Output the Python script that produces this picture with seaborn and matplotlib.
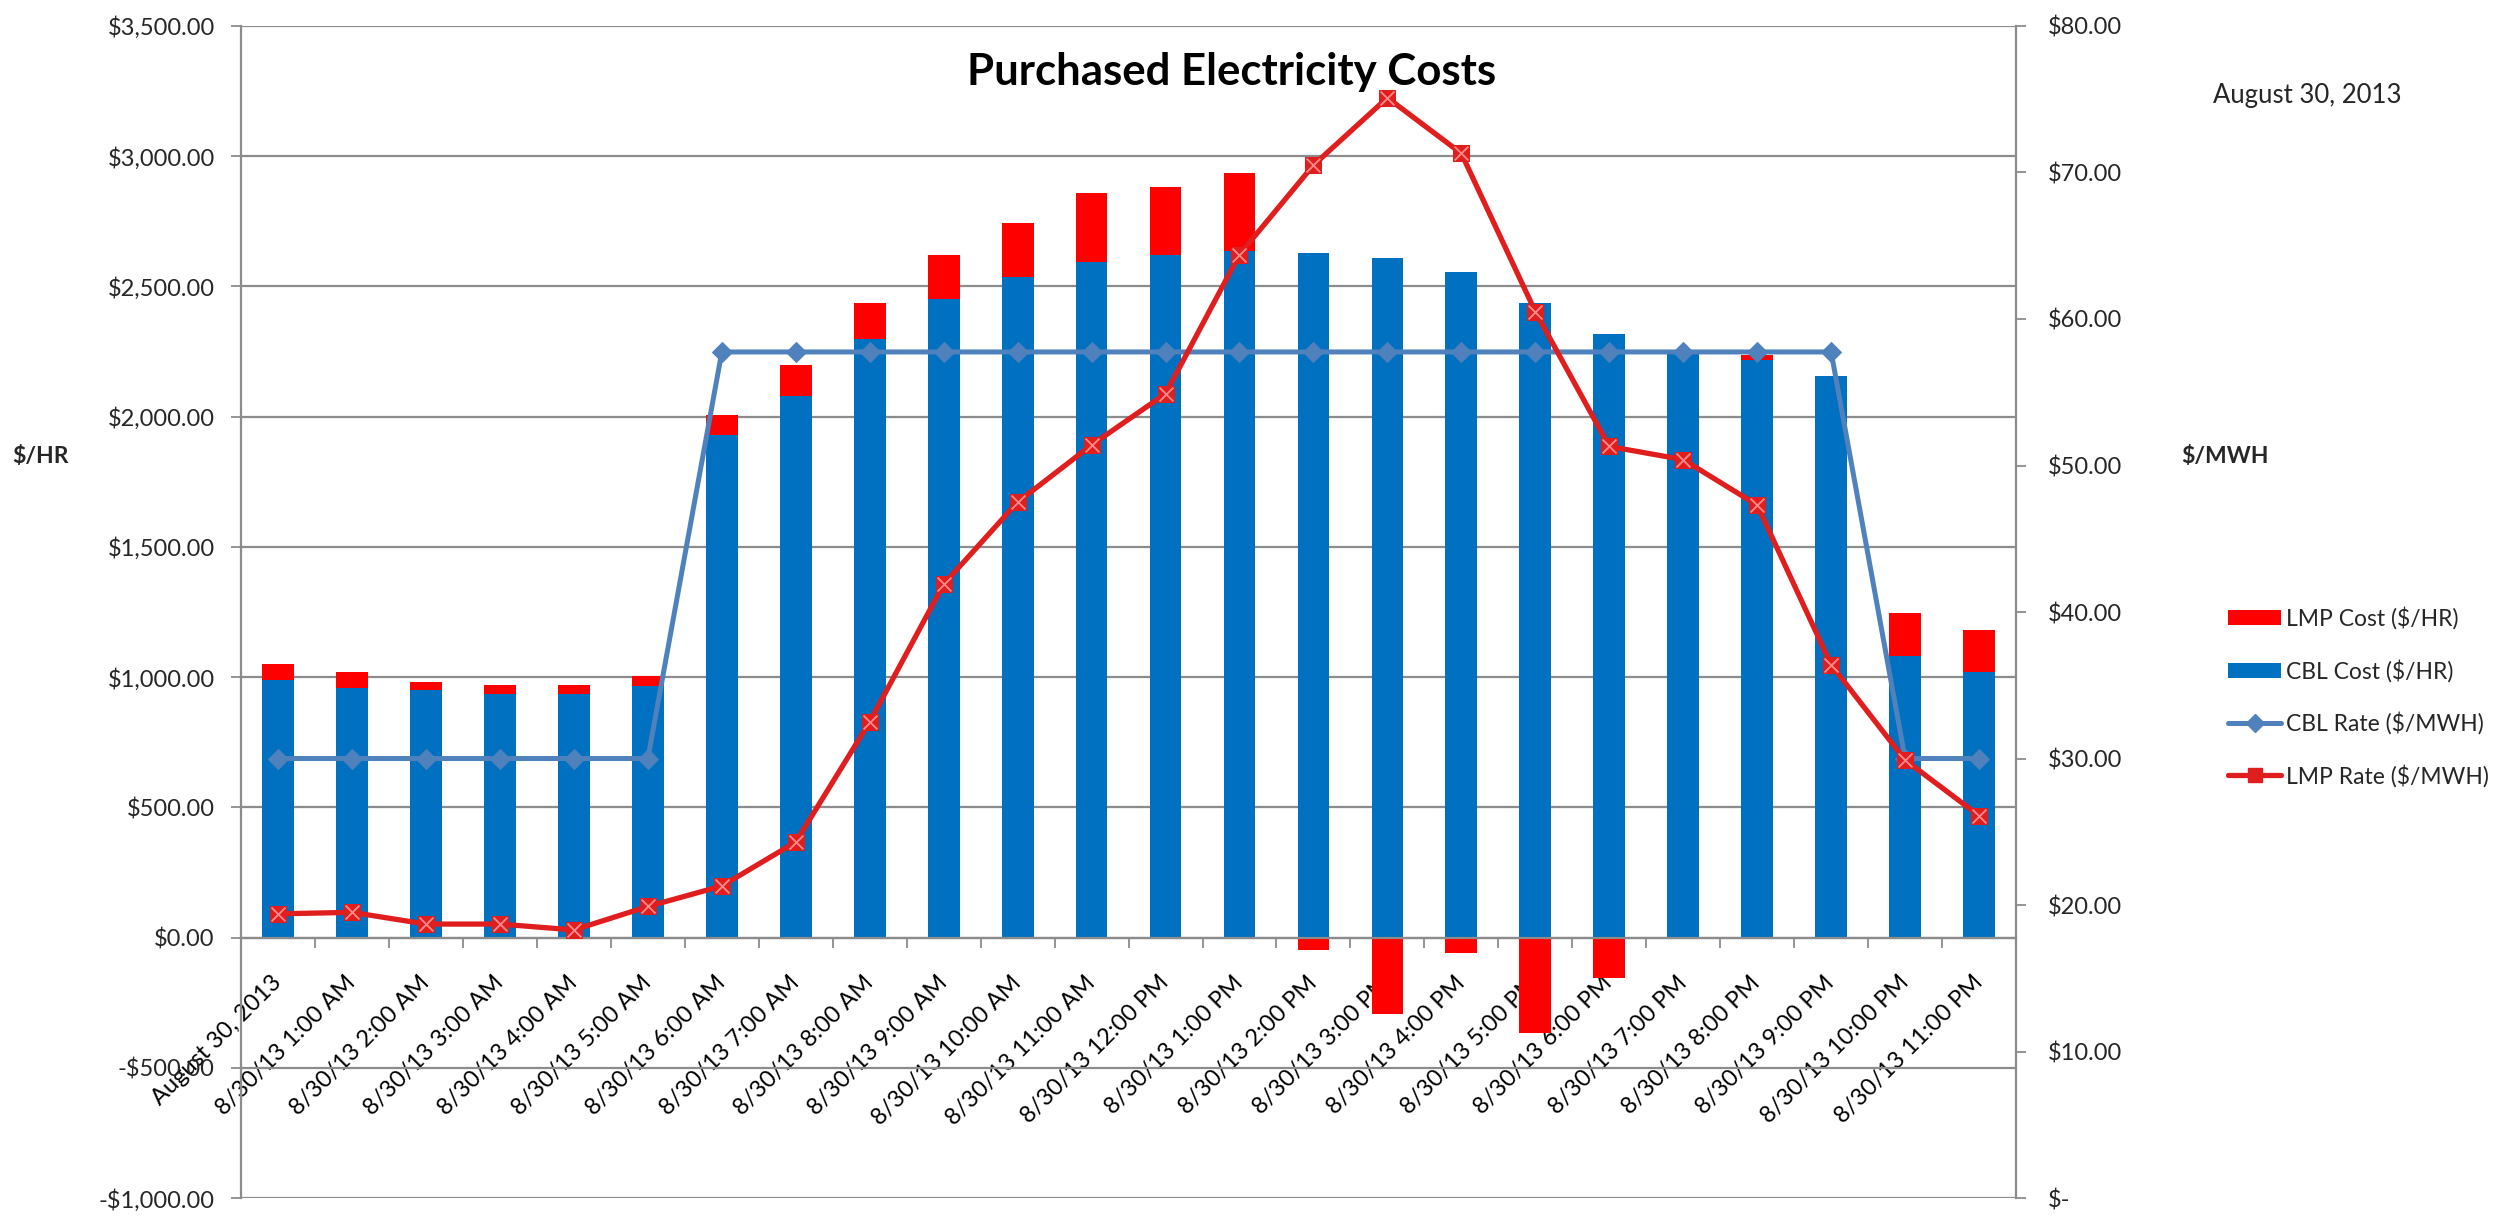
import numpy as np
import pandas as pd
import matplotlib
matplotlib.use("Agg")
import matplotlib.pyplot as plt
import seaborn as sns
from matplotlib.ticker import FuncFormatter, FixedLocator
from matplotlib.lines import Line2D
from matplotlib.patches import Patch

# ---------------- data ----------------
hours = [
    "August 30, 2013", "8/30/13 1:00 AM", "8/30/13 2:00 AM", "8/30/13 3:00 AM",
    "8/30/13 4:00 AM", "8/30/13 5:00 AM", "8/30/13 6:00 AM", "8/30/13 7:00 AM",
    "8/30/13 8:00 AM", "8/30/13 9:00 AM", "8/30/13 10:00 AM", "8/30/13 11:00 AM",
    "8/30/13 12:00 PM", "8/30/13 1:00 PM", "8/30/13 2:00 PM", "8/30/13 3:00 PM",
    "8/30/13 4:00 PM", "8/30/13 5:00 PM", "8/30/13 6:00 PM", "8/30/13 7:00 PM",
    "8/30/13 8:00 PM", "8/30/13 9:00 PM", "8/30/13 10:00 PM", "8/30/13 11:00 PM",
]
cbl_cost = [990, 960, 950, 935, 935, 965, 1930, 2080, 2300, 2450, 2535, 2595,
            2620, 2635, 2630, 2608, 2556, 2435, 2318, 2250, 2218, 2155, 1080, 1020]
lmp_cost = [60, 60, 32, 33, 33, 38, 75, 120, 135, 170, 210, 265,
            260, 300, -47, -294, -58, -365, -156, 0, 18, 0, 167, 160]
cbl_rate = [30, 30, 30, 30, 30, 30, 57.75, 57.75, 57.75, 57.75, 57.75, 57.75,
            57.75, 57.75, 57.75, 57.75, 57.75, 57.75, 57.75, 57.75, 57.75, 57.75, 30, 30]
lmp_rate = [19.4, 19.5, 18.7, 18.7, 18.3, 19.9, 21.3, 24.3, 32.5, 41.9, 47.5, 51.4,
            54.9, 64.4, 70.5, 75.1, 71.3, 60.5, 51.3, 50.4, 47.3, 36.4, 29.9, 26.1]

left_ticks = [-1000, -500, 0, 500, 1000, 1500, 2000, 2500, 3000, 3500]
right_ticks = [0, 10, 20, 30, 40, 50, 60, 70, 80]

title = "Purchased Electricity Costs"
date_text = "August 30, 2013"
legend_labels = ["LMP Cost ($/HR)", "CBL Cost ($/HR)", "CBL Rate ($/MWH)", "LMP Rate ($/MWH)"]

# ---------------- style ----------------
sns.set_theme(style="white")
plt.rcParams["font.family"] = ["Lato", "DejaVu Sans"]

BLUE = "#0070C0"
RED = "#FF0000"
LINE_BLUE = "#4F81BD"
LINE_RED = "#E01E1E"
GRID = "#8C8C8C"
TXT = "#262626"
TICK_FS = 17

fig = plt.figure(figsize=(24.96, 12.25), dpi=100)
ax = fig.add_axes([0.0966, 0.022, 0.8077 - 0.0966, 0.9788 - 0.022])

df = pd.DataFrame({"hour": hours, "cbl": cbl_cost, "lmp": lmp_cost})
lmp_arr = np.asarray(lmp_cost, dtype=float)
cbl_arr = np.asarray(cbl_cost, dtype=float)
lmp_bottom = np.where(lmp_arr > 0, cbl_arr, 0.0)

sns.barplot(data=df, x="hour", y="cbl", order=hours, color=BLUE, saturation=1,
            width=0.43, errorbar=None, ax=ax, linewidth=0)
sns.barplot(data=df, x="hour", y="lmp", order=hours, color=RED, saturation=1,
            width=0.43, errorbar=None, ax=ax, linewidth=0, bottom=lmp_bottom)

ax.set_xlim(-0.5, len(hours) - 0.5)
ax.set_ylim(-1000, 3500)
ax.set_xlabel("")
ax.set_ylabel("")
ax.set_axisbelow(True)
ax.yaxis.set_major_locator(FixedLocator(left_ticks))


def left_fmt(v, pos):
    if v < 0:
        return "-${:,.2f}".format(-v)
    return "${:,.2f}".format(v)


ax.yaxis.set_major_formatter(FuncFormatter(left_fmt))
ax.yaxis.grid(True, color=GRID, linewidth=1.6)
ax.xaxis.grid(False)

for s in ["top", "right"]:
    ax.spines[s].set_visible(False)
ax.spines["left"].set_color(GRID)
ax.spines["left"].set_linewidth(1.6)
ax.spines["bottom"].set_position(("data", 0))
ax.spines["bottom"].set_color(GRID)
ax.spines["bottom"].set_linewidth(1.6)

ax.tick_params(axis="y", which="major", direction="out", length=7, width=1.3,
               color=GRID, labelsize=TICK_FS, labelcolor=TXT, pad=12, left=True)
ax.xaxis.set_minor_locator(FixedLocator(np.arange(-0.5, len(hours), 1.0)))
ax.tick_params(axis="x", which="minor", direction="out", length=7, width=1.3,
               color=GRID, bottom=True)
ax.tick_params(axis="x", which="major", length=0, labelsize=TICK_FS,
               labelcolor="black", pad=30)
for lab in ax.get_xticklabels():
    lab.set_rotation(45)
    lab.set_ha("right")
    lab.set_va("center")
    lab.set_rotation_mode("anchor")

# ---------------- secondary axis (rates) ----------------
ax2 = ax.twinx()
xpos = np.arange(len(hours))
sns.lineplot(x=xpos, y=cbl_rate, ax=ax2, color=LINE_BLUE, linewidth=3.6,
             marker="D", markersize=10, markeredgecolor=LINE_BLUE, zorder=3)
sns.lineplot(x=xpos, y=lmp_rate, ax=ax2, color=LINE_RED, linewidth=3.8,
             marker="s", markersize=12, markeredgecolor=LINE_RED, zorder=4)
sns.scatterplot(x=xpos, y=lmp_rate, ax=ax2, marker="x", s=100, color="#FF8A8A",
                linewidth=1.3, zorder=5)
ax2.set_xlim(-0.5, len(hours) - 0.5)
ax2.set_ylim(0, 80)
ax2.yaxis.set_major_locator(FixedLocator(right_ticks))


def right_fmt(v, pos):
    if abs(v) < 1e-9:
        return "$-"
    return "${:,.2f}".format(v)


ax2.yaxis.set_major_formatter(FuncFormatter(right_fmt))
ax2.grid(False)
ax2.set_xlabel("")
ax2.set_ylabel("")
for s in ["top", "left", "bottom"]:
    ax2.spines[s].set_visible(False)
ax2.spines["right"].set_color(GRID)
ax2.spines["right"].set_linewidth(1.6)
ax2.tick_params(axis="y", direction="out", length=7, width=1.3, color=GRID,
                labelsize=TICK_FS, labelcolor=TXT, pad=16, right=True)
if ax2.get_legend() is not None:
    ax2.get_legend().remove()

# ---------------- texts ----------------
fig.text(0.4933, 0.941, title, ha="center", va="center", fontsize=31.5,
         fontweight="bold", color="black")
fig.text(0.005, 0.627, "$/HR", ha="left", va="center", fontsize=16.5,
         fontweight="bold", color=TXT)
fig.text(0.874, 0.627, "$/MWH", ha="left", va="center", fontsize=16.5,
         fontweight="bold", color=TXT)
fig.text(0.8866, 0.922, date_text, ha="left", va="center", fontsize=18.5, color=TXT)

handles = [
    Patch(facecolor=RED, edgecolor="none"),
    Patch(facecolor=BLUE, edgecolor="none"),
    Line2D([0], [0], color=LINE_BLUE, linewidth=3.6, marker="D", markersize=9),
    Line2D([0], [0], color=LINE_RED, linewidth=3.8, marker="s", markersize=10),
]
fig.legend(handles, legend_labels, loc="center left", bbox_to_anchor=(0.8845, 0.431),
           frameon=False, fontsize=16.5, handlelength=2.3, handleheight=0.62,
           labelspacing=1.29, handletextpad=0.2, labelcolor=TXT)

fig.savefig("out.png", dpi=100)
